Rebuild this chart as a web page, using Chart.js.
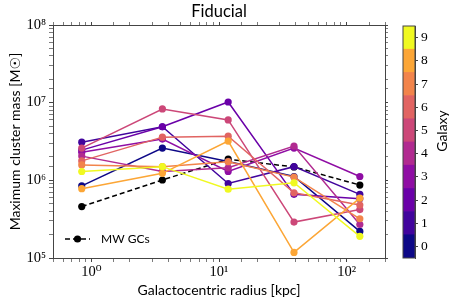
<!DOCTYPE html>
<html>
<head>
<meta charset="utf-8">
<script src="https://cdn.jsdelivr.net/npm/chart.js@4.4.1/dist/chart.umd.min.js"></script>
<style>
    html, body { margin: 0; padding: 0; background: #fff; }
    #wrap { position: relative; width: 458px; height: 305px; }
    #massChart { position: absolute; left: 0; top: 0; }
    #galaxyBar { position: absolute; left: 380px; top: 0; }
</style>
</head>
<body>
<div id="wrap">
    <canvas id="massChart" width="458" height="305"></canvas>
    <canvas id="galaxyBar" width="78" height="305"></canvas>
</div>
<script>
// galactocentric radius bins [kpc]
const radii = [0.84, 3.6, 11.8, 38.7, 127];
const galaxyLabels = ['0', '1', '2', '3', '4', '5', '6', '7', '8', '9'];

// maximum cluster mass [Msun], one array per galaxy
const galaxy0 = [8.5e5, 2.6e6, 1.75e6, 1.12e6, 2.2e5];
const galaxy1 = [3.1e6, 4.9e6, 9.1e5, 1.5e6, 6.6e5];
const galaxy2 = [2.45e6, 4.9e6, 1.02e7, 6.6e5, 5.8e5];
const galaxy3 = [2.3e6, 3.4e6, 1.3e6, 2.6e6, 1.12e6];
const galaxy4 = [2.05e6, 1.3e6, 1.45e6, 2.76e6, 2.7e5];
const galaxy5 = [2.6e6, 8.3e6, 6.0e6, 2.9e5, 4.2e5];
const galaxy6 = [1.78e6, 3.6e6, 3.7e6, 6.9e5, 4.8e5];
const galaxy7 = [1.58e6, 1.5e6, 1.74e6, 1.1e6, 3.2e5];
const galaxy8 = [7.8e5, 1.23e6, 3.2e6, 1.18e5, 5.9e5];
const galaxy9 = [1.3e6, 1.5e6, 7.7e5, 9.3e5, 1.9e5];
const mwGCs = [4.6e5, 1.01e6, 1.87e6, 1.49e6, 8.7e5];

const galaxyColors = ['#0d0887', '#41049d', '#6a00a8', '#8f0da4', '#b12a90',
    '#cc4778', '#e16462', '#f2844b', '#fca636', '#f0f921'];

const sansFont = 'Lato, "DejaVu Sans", sans-serif';
const serifFont = '"Liberation Serif", "DejaVu Serif", serif';
const axisColor = '#444';

const sup = {'0': '⁰', '1': '¹', '2': '²', '3': '³', '4': '⁴', '5': '⁵', '6': '⁶', '7': '⁷', '8': '⁸', '9': '⁹', '-': '⁻'};

function isDecade(v) {
    const e = Math.log10(v);
    return Math.abs(e - Math.round(e)) < 1e-6;
}

function powLabel(v) {
    if (!isDecade(v))
        return '';
    return '10' + String(Math.round(Math.log10(v))).split('').map(c => sup[c]).join('');
}

function tickWidth(ctx) {
    return ctx.tick && isDecade(ctx.tick.value) ? 1 : 0.7;
}

const galaxySeries = [galaxy0, galaxy1, galaxy2, galaxy3, galaxy4,
    galaxy5, galaxy6, galaxy7, galaxy8, galaxy9];

const datasets = galaxySeries.map((vals, i) => ({
    label: 'Galaxy ' + galaxyLabels[i],
    data: vals.map((v, j) => ({x: radii[j], y: v})),
    borderColor: galaxyColors[i],
    backgroundColor: galaxyColors[i],
    borderWidth: 1.5,
    pointRadius: 3.6,
    pointBorderWidth: 0,
    order: galaxySeries.length - i
}));

datasets.push({
    label: 'MW GCs',
    data: mwGCs.map((v, j) => ({x: radii[j], y: v})),
    borderColor: '#000',
    backgroundColor: '#000',
    borderWidth: 1.5,
    borderDash: [5, 3],
    pointRadius: 3.6,
    pointBorderWidth: 0,
    order: 20
});

// little key for the MW line, bottom left inside the axes
const mwKey = {
    id: 'mwKey',
    afterDatasetsDraw(chart) {
        const {ctx, chartArea} = chart;
        const x0 = chartArea.left + 12;
        const y = chartArea.bottom - 19;
        ctx.save();
        ctx.strokeStyle = '#000';
        ctx.lineWidth = 1.5;
        ctx.setLineDash([5, 3]);
        ctx.beginPath();
        ctx.moveTo(x0, y);
        ctx.lineTo(x0 + 25, y);
        ctx.stroke();
        ctx.setLineDash([]);
        ctx.fillStyle = '#000';
        ctx.beginPath();
        ctx.arc(x0 + 12.5, y, 3.6, 0, Math.PI * 2);
        ctx.fill();
        ctx.font = '12px ' + sansFont;
        ctx.textBaseline = 'middle';
        ctx.fillText('MW GCs', x0 + 36, y);
        ctx.restore();
    }
};

const logX = {min: 0.5, max: 200};
const logY = {min: 1e5, max: 1e8};

new Chart(document.getElementById('massChart'), {
    type: 'line',
    data: {datasets: datasets},
    options: {
        responsive: false,
        animation: false,
        layout: {padding: {left: 0, right: 70, top: 0, bottom: 0}},
        plugins: {
            legend: {display: false},
            tooltip: {enabled: false},
            title: {
                display: true,
                fullSize: false,
                text: 'Fiducial',
                color: '#000',
                font: {family: sansFont, size: 16.5, weight: 'normal', lineHeight: 1.2},
                padding: {top: 2, bottom: 0.2}
            }
        },
        scales: {
            x: {
                type: 'logarithmic',
                position: 'bottom',
                min: logX.min,
                max: logX.max,
                afterFit: s => { s.height = 47; },
                ticks: {
                    autoSkip: false,
                    maxRotation: 0,
                    padding: 1,
                    color: '#000',
                    font: {family: serifFont, size: 14.5},
                    callback: v => powLabel(v)
                },
                grid: {drawOnChartArea: false, tickLength: 4, tickColor: axisColor, tickWidth: tickWidth},
                border: {color: axisColor, width: 1},
                title: {
                    display: true,
                    text: 'Galactocentric radius [kpc]',
                    color: '#000',
                    font: {family: sansFont, size: 14},
                    padding: {top: 0, bottom: 6}
                }
            },
            x2: {
                type: 'logarithmic',
                position: 'top',
                min: logX.min,
                max: logX.max,
                afterFit: s => { s.height = 3; },
                ticks: {display: false},
                grid: {drawOnChartArea: false, tickLength: 3, tickColor: axisColor, tickWidth: tickWidth},
                border: {color: axisColor, width: 1}
            },
            y: {
                type: 'logarithmic',
                position: 'left',
                min: logY.min,
                max: logY.max,
                afterFit: s => { s.width = 53; },
                ticks: {
                    autoSkip: false,
                    padding: 3,
                    color: '#000',
                    font: {family: serifFont, size: 14.5},
                    callback: v => powLabel(v)
                },
                grid: {drawOnChartArea: false, tickLength: 4, tickColor: axisColor, tickWidth: tickWidth},
                border: {color: axisColor, width: 1},
                title: {
                    display: true,
                    text: 'Maximum cluster mass [M☉]',
                    color: '#000',
                    font: {family: sansFont, size: 14},
                    padding: {top: 7, bottom: 0}
                }
            },
            y2: {
                type: 'logarithmic',
                position: 'right',
                min: logY.min,
                max: logY.max,
                afterFit: s => { s.width = 3; },
                ticks: {display: false},
                grid: {drawOnChartArea: false, tickLength: 3, tickColor: axisColor, tickWidth: tickWidth},
                border: {color: axisColor, width: 1}
            }
        }
    },
    plugins: [mwKey]
});

// colour bar: one stacked block per galaxy
const cbarFrame = {
    id: 'cbarFrame',
    afterDraw(chart) {
        const {ctx, chartArea} = chart;
        ctx.save();
        ctx.strokeStyle = axisColor;
        ctx.lineWidth = 1;
        ctx.strokeRect(chartArea.left, chartArea.top, chartArea.right - chartArea.left, chartArea.bottom - chartArea.top);
        ctx.translate(62, 131);
        ctx.rotate(-Math.PI / 2);
        ctx.font = '14px ' + sansFont;
        ctx.fillStyle = '#000';
        ctx.textAlign = 'center';
        ctx.textBaseline = 'middle';
        ctx.fillText('Galaxy', 0, 0);
        ctx.restore();
    }
};

new Chart(document.getElementById('galaxyBar'), {
    type: 'bar',
    data: {
        labels: ['Galaxy'],
        datasets: galaxyLabels.map((g, i) => ({
            label: g,
            data: [1],
            backgroundColor: galaxyColors[i],
            borderWidth: 0,
            barPercentage: 1,
            categoryPercentage: 1
        }))
    },
    options: {
        responsive: false,
        animation: false,
        layout: {padding: {left: 23, right: 0, top: 26, bottom: 47}},
        plugins: {legend: {display: false}, tooltip: {enabled: false}},
        scales: {
            x: {stacked: true, display: false},
            y: {
                stacked: true,
                position: 'right',
                min: 0,
                max: galaxyLabels.length,
                afterBuildTicks: s => { s.ticks = galaxyLabels.map((g, i) => ({value: i + 0.5})); },
                afterFit: s => { s.width = 43; },
                ticks: {
                    padding: 3,
                    color: '#000',
                    font: {family: serifFont, size: 13.5},
                    callback: (v, i) => galaxyLabels[i]
                },
                grid: {drawOnChartArea: false, tickLength: 3, tickColor: axisColor},
                border: {color: axisColor, width: 1}
            }
        }
    },
    plugins: [cbarFrame]
});
</script>
</body>
</html>
